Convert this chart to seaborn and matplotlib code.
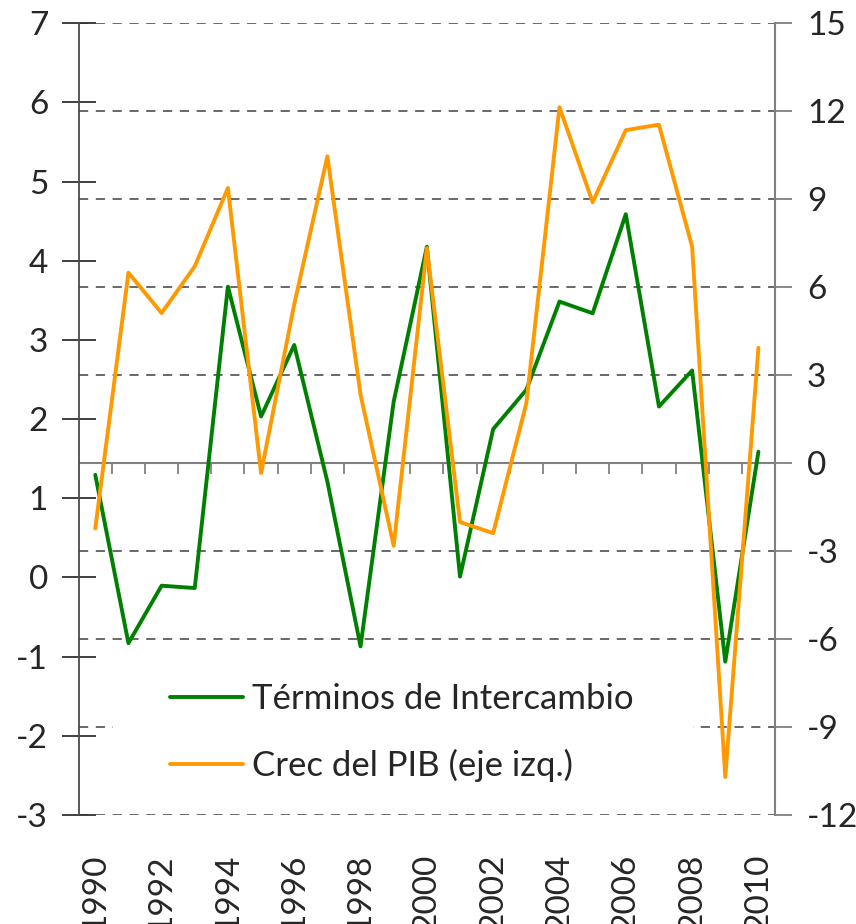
import matplotlib
matplotlib.use("Agg")
import matplotlib.pyplot as plt
import seaborn as sns
import pandas as pd
from matplotlib.patches import Rectangle
from matplotlib.lines import Line2D

sns.set_theme(style="white")
plt.rcParams['font.family'] = ['Lato', 'DejaVu Sans']
plt.rcParams['axes.unicode_minus'] = False

years = list(range(1990, 2011))
pib = [0.62, 3.85, 3.34, 3.93, 4.92, 1.32, 3.45, 5.32, 2.31, 0.40, 4.16,
       0.70, 0.56, 2.20, 5.94, 4.74, 5.65, 5.72, 4.18, -2.52, 2.90]
tdi = [-0.40, -6.14, -4.18, -4.26, 6.02, 1.59, 4.03, -0.63, -6.25, 2.10, 7.38,
       -3.87, 1.16, 2.50, 5.51, 5.11, 8.49, 1.93, 3.16, -6.77, 0.39]
left_ticks = list(range(-3, 8))
right_ticks = list(range(-12, 16, 3))
xtick_years = list(range(1990, 2011, 2))
lab_tdi = "Términos de Intercambio"
lab_pib = "Crec del PIB (eje izq.)"

df = pd.DataFrame({"year": years, "pib": pib, "tdi": tdi})

GREEN = "#008000"
ORANGE = "#FF9900"
FS = 24
LFS = 25

fig = plt.figure(figsize=(8.56, 9.24), dpi=100)
ax = fig.add_axes([78.7/856, 1-815/924, (775-78.7)/856, (815-23.3)/924])
ax2 = ax.twinx()

# host axis: right scale (green), gridlines
ax.set_ylim(-12, 15)
ax.set_xlim(years[0]-0.5, years[-1]+0.5)
ax.set_yticks(right_ticks)
ax.yaxis.tick_right()
ax.yaxis.set_label_position("right")
for t in right_ticks:
    if t != 0:
        ax.axhline(t, color="#404040", lw=1.1, ls=(0, (6, 5)), zorder=1)
ax.axhline(0, color="#808080", lw=1.5, zorder=1.5)
ax.vlines([y - 0.5 for y in years[1:]] + [years[-1]+0.5], 0, -0.38,
          color="#808080", lw=1.3, zorder=1.5)
ax.add_patch(Rectangle((0.049, 0.02), 0.833, 0.165, transform=ax.transAxes,
                       facecolor="white", edgecolor="none", zorder=2))
sns.lineplot(data=df, x="year", y="tdi", ax=ax, color=GREEN, lw=2.8, zorder=3)

# twin axis: left scale (orange)
ax2.set_ylim(-3, 7)
ax2.set_yticks(left_ticks)
sns.lineplot(data=df, x="year", y="pib", ax=ax2, color=ORANGE, lw=2.8, zorder=3)
ax2.yaxis.tick_left()
ax2.yaxis.set_label_position("left")

for a in (ax, ax2):
    a.set_xlabel("")
    a.set_ylabel("")
    a.set_facecolor("none")
    for s in a.spines.values():
        s.set_visible(False)
    a.grid(False)

ax2.spines["left"].set_visible(True)
ax2.spines["left"].set_color("#4a4a4a")
ax2.spines["left"].set_linewidth(1.3)
ax.spines["right"].set_visible(True)
ax.spines["right"].set_color("#808080")
ax.spines["right"].set_linewidth(1.5)

ax2.tick_params(axis="y", which="major", left=True, right=False, direction="inout",
                length=24, width=1.3, color="#303030", labelsize=FS, pad=10,
                labelleft=True, labelright=False)
ax.tick_params(axis="y", which="major", right=True, left=False, direction="out",
               length=12, width=1.3, color="#808080", labelsize=FS, pad=11,
               labelright=True, labelleft=False)

ax.set_xticks(xtick_years)
ax.set_xticklabels([str(y) for y in xtick_years], rotation=90, fontsize=FS)
ax.tick_params(axis="x", bottom=False, top=False, pad=22, labelsize=FS)
ax2.tick_params(axis="x", bottom=False, top=False, labelbottom=False)

handles = [Line2D([], [], color=GREEN, lw=2.8), Line2D([], [], color=ORANGE, lw=2.8)]
ax2.legend(handles, [lab_tdi, lab_pib], loc="center left",
           bbox_to_anchor=(0.131, 0.104), frameon=False, fontsize=LFS,
           handlelength=2.1, handletextpad=0.25, labelspacing=0.98,
           borderaxespad=0, borderpad=0)

fig.savefig("out.png", dpi=100)
